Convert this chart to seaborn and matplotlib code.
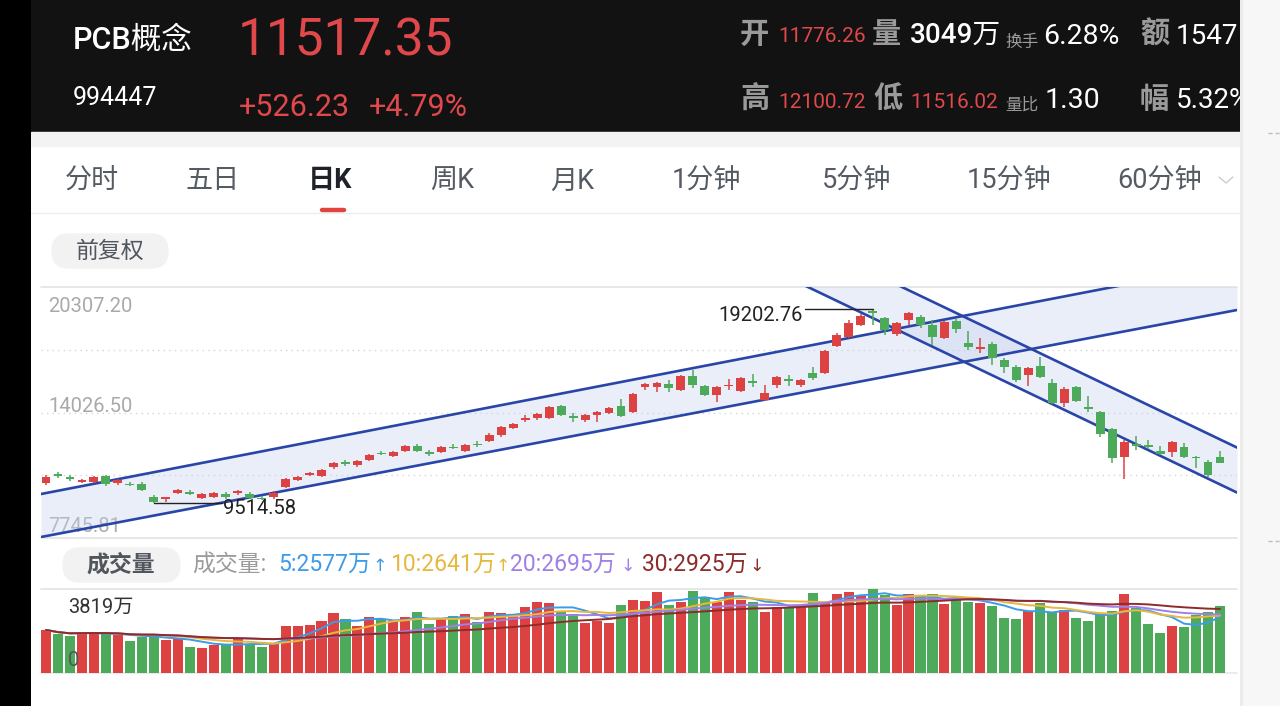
import numpy as np
import pandas as pd
import matplotlib
matplotlib.use('Agg')
import matplotlib.pyplot as plt
import seaborn as sns
from matplotlib.patches import Rectangle, FancyBboxPatch

sns.set_theme(style='white')
plt.rcParams['font.family'] = ['Roboto', 'Noto Sans CJK SC', 'DejaVu Sans']
plt.rcParams['axes.unicode_minus'] = False

# ---- data (PCB概念, daily K) ----
opens = [10498, 10948, 10798, 10548, 10548, 10848, 10498, 10447, 10447, 9797,
         9697, 9997, 10047, 9747, 9797, 9947, 9997, 9947, 9747, 9797,
         10297, 10648, 10898, 10848, 11298, 11548, 11398, 11648, 11999, 11849,
         12099, 12349, 12049, 12049, 12299, 12099, 12449, 12599, 12900, 13250,
         13650, 13751, 13751, 14351, 13851, 13650, 13901, 14001, 14351, 14051,
         15302, 15302, 15453, 15152, 15853, 15352, 14902, 15352, 15102, 15603,
         14651, 15403, 15703, 15403, 16003, 16003, 17354, 17805, 18405, 19106,
         18756, 17955, 18655, 18806, 18405, 17755, 18605, 17504, 17204, 17454,
         16654, 16303, 15903, 16353, 15503, 14501, 15302, 14301, 14051, 13200,
         11799, 12449, 12399, 12099, 12049, 12299, 11799, 11548, 11776.26]
closes = [10798, 10848, 10698, 10648, 10798, 10447, 10648, 10397, 10147, 9547,
          9797, 10147, 9947, 9947, 9997, 9797, 10097, 9747, 9697, 9997,
          10698, 10798, 10998, 11148, 11498, 11448, 11598, 11899, 11949, 12049,
          12349, 12099, 11949, 12299, 12249, 12399, 12399, 12900, 13300, 13450,
          13750, 13951, 14301, 13901, 13751, 13901, 14051, 14251, 13851, 14952,
          15453, 15503, 15252, 15853, 15403, 14902, 15302, 15402, 15753, 15503,
          15002, 15803, 15603, 15653, 15753, 17104, 17905, 18505, 18856, 19006,
          18155, 18505, 19006, 18405, 17805, 18555, 18205, 17304, 17304, 16754,
          16303, 15653, 16253, 15803, 14501, 15202, 14601, 14201, 12950, 11749,
          12549, 12349, 12299, 11949, 12549, 11799, 11749, 10898, 11517.35]
highs = [10898, 11048, 10898, 10698, 10848, 10898, 10698, 10548, 10548, 9897,
         9812, 10197, 10147, 9997, 10047, 10047, 10147, 10047, 9847, 10097,
         10748, 10848, 11048, 11198, 11548, 11648, 11648, 11949, 12099, 12099,
         12399, 12449, 12149, 12349, 12449, 12449, 12599, 13000, 13350, 13500,
         13900, 14001, 14351, 14401, 14001, 13951, 14101, 14301, 14702, 15002,
         15503, 15553, 15653, 15903, 16153, 15403, 15352, 15703, 15803, 15953,
         15403, 15853, 15903, 15703, 16303, 17154, 18005, 18655, 18956, 19202.76,
         18806, 18555, 19056, 18906, 18655, 18605, 18705, 18105, 17754, 17554,
         16754, 16403, 16303, 16804, 15703, 15302, 15352, 14852, 14101, 13250,
         12649, 12849, 12649, 12349, 12599, 12499, 11849, 11648, 12100.72]
lows = [10397, 10748, 10598, 10498, 10498, 10347, 10397, 10347, 10097, 9514.58,
        9540, 9947, 9897, 9697, 9747, 9697, 9897, 9697, 9647, 9697,
        10247, 10598, 10848, 10798, 11198, 11348, 11298, 11598, 11899, 11799,
        12049, 12049, 11849, 11999, 12199, 12049, 12299, 12549, 12800, 13200,
        13550, 13650, 13701, 13851, 13550, 13550, 13550, 13951, 13801, 14001,
        15152, 15052, 15052, 15102, 15252, 14852, 14551, 15152, 15052, 15302,
        14601, 15252, 15352, 15302, 15653, 15953, 17304, 17755, 18355, 18405,
        17905, 17855, 18405, 18255, 17404, 17705, 18005, 17154, 17004, 16403,
        16003, 15553, 15352, 15753, 14451, 14301, 14551, 14051, 12800, 11498,
        10698, 12149, 12199, 11899, 11799, 11749, 11248, 10798, 11516.02]
# volume in 万
volumes = [1957, 1760, 1698, 1835, 1835, 1805, 1729, 1471, 1623, 1729,
           1502, 1547, 1198, 1153, 1259, 1304, 1532, 1320, 1198, 1320,
           2139, 2139, 2184, 2366, 2745, 2442, 2139, 2563, 2442, 2366,
           2563, 2760, 2214, 2457, 2594, 2685, 2336, 2791, 2745, 2685,
           3018, 3215, 3200, 2791, 2685, 2290, 2366, 2260, 3094, 3322,
           3276, 3670, 3094, 3246, 3731, 3473, 3246, 3670, 3322, 3215,
           2791, 3018, 2943, 3094, 3655, 3246, 3595, 3670, 3504, 3819,
           3549, 3094, 3579, 3473, 3595, 3124, 3322, 3246, 3200, 3048,
           2518, 2457, 2836, 3170, 2791, 2867, 2518, 2366, 2639, 2821,
           3579, 2943, 2230, 1805, 2139, 2108, 2639, 2791, 3049]

price_top, price_bottom = 20307.20, 7745.81
vol_top = 3819
high_mark = (69, 19202.76)
low_mark = (9, 9514.58)

# hand-drawn trend channels: two points (bar index, price) per line
rise_lo = [(-0.42, 7795), (99.42, 19156)]
rise_hi = [(-0.42, 9947), (89.07, 20307)]
fall_lo = [(63.6, 20307), (99.5, 9997)]
fall_hi = [(71.45, 20307), (99.5, 12249)]

ma_periods = [5, 10, 20, 30]
ma_colors = ['#3d9be9', '#e6b840', '#a07fe6', '#8e2b2b']
ma_labels = ['5:2577万', '10:2641万', '20:2695万', '30:2925万']
ma_arrows = ['↑', '↑', '↓', '↓']

tabs = ['分时', '五日', '日K', '周K', '月K', '1分钟', '5分钟', '15分钟', '60分钟']
tab_x = [65, 185, 308, 430, 550, 672, 822, 967, 1117]

RED, GREEN = '#dd4242', '#4caa5a'
LINE = '#2a45a8'

W, H = 1280, 706
fig = plt.figure(figsize=(12.8, 7.06), dpi=100, facecolor='white')


def px_axes(x0, y0, x1, y1, z):
    return fig.add_axes([x0 / W, 1 - y1 / H, (x1 - x0) / W, (y1 - y0) / H], zorder=z)


# background / UI layer in pixel coordinates
ui = fig.add_axes([0, 0, 1, 1], zorder=0)
ui.set_xlim(0, W)
ui.set_ylim(H, 0)
ui.axis('off')


def txt(x, y, s, size, color, ax=ui, **kw):
    ax.text(x, y, s, fontsize=size, color=color, va='center', ha=kw.pop('ha', 'left'),
            transform=ui.transData, **kw)


ui.add_patch(Rectangle((0, 0), 1240, 132, color='#121212', zorder=1))
ui.add_patch(Rectangle((31, 132), 1209, 14, color='#f3f3f3', zorder=1))
ui.plot([31, 1240], [213, 213], color='#eeeeee', lw=1, zorder=1)

# header
txt(73, 40, 'PCB概念', 22, 'white', fontweight='medium')
txt(73, 98, '994447', 18, 'white')
txt(238, 42, '11517.35', 37, '#e0484b')
txt(239, 107, '+526.23', 22, '#e0484b')
txt(369, 107, '+4.79%', 22, '#e0484b')
GREY_H = '#9a9a9a'
for lbl, x, y in [('开', 740, 35), ('量', 872, 35), ('额', 1140, 35),
                  ('高', 740, 100), ('低', 873, 100), ('幅', 1140, 100)]:
    txt(x, y, lbl, 21, GREY_H, fontweight='bold')
txt(778, 37, '11776.26', 15, '#e0484b')
txt(910, 35, '3049万', 20, 'white', fontweight='medium')
txt(1005, 42, '换手', 12, GREY_H)
txt(1043, 36, '6.28%', 20.5, 'white')
txt(1176, 36, '1547', 20, 'white')
txt(778, 102, '12100.72', 15, '#e0484b')
txt(910, 102, '11516.02', 15, '#e0484b')
txt(1005, 105, '量比', 12, GREY_H)
txt(1045, 100, '1.30', 20.5, 'white')
txt(1176, 100, '5.32%', 20, 'white')

# period tabs
for lbl, x in zip(tabs, tab_x):
    if lbl == '日K':
        txt(x, 181, lbl, 19.5, '#1f2329', fontweight='bold')
    else:
        txt(x, 181, lbl, 19.5, '#555b63')
ui.plot([322, 344], [210, 210], lw=3.2, color='#e0443e', solid_capstyle='round', zorder=2)
ui.plot([1219, 1226, 1233], [177, 183, 177], color='#cccccc', lw=1, zorder=2)

# pills
ui.add_patch(FancyBboxPatch((52, 234), 116, 34, boxstyle='round,pad=0,rounding_size=17',
                            color='#f2f2f2', zorder=1))
txt(110, 251, '前复权', 16.5, '#50555e', ha='center')
ui.add_patch(FancyBboxPatch((63, 548), 117, 34, boxstyle='round,pad=0,rounding_size=17',
                            color='#f2f2f2', zorder=1))
txt(121, 565, '成交量', 16.5, '#50555e', ha='center', fontweight='bold')
txt(192, 565, '成交量:', 16.5, '#9b9b9b')
for s, a, x, xa, col in zip(ma_labels, ma_arrows, [278, 390, 510, 642],
                            [380, 503, 628, 757], ma_colors):
    txt(x, 565, s, 16.5, col)
    txt(xa, 566, a, 12.5, col, ha='center', family=['DejaVu Sans'])

# price axis labels (under the chart artists)
for lbl, y in [('20307.20', 306), ('14026.50', 406), ('7745.81', 526)]:
    txt(48, y, lbl, 14.5, '#a9a9a9')

# ---- candlestick panel ----
idx = np.arange(len(opens))
o = np.array(opens, float)
c = np.array(closes, float)
colors = np.where(c >= o, RED, GREEN)

ax = px_axes(41, 287, 1237, 538, 2)
ax.set_facecolor('none')
xlim = (-0.417, 99.42)

levels = np.linspace(price_bottom, price_top, 5)
for lv in levels[1:-1]:
    ax.axhline(lv, color='#d6d6d6', lw=1, ls=(0, (1, 3)), zorder=1)
for lv in (levels[0], levels[-1]):
    ax.axhline(lv, color='#e3e3e3', lw=1.2, zorder=1, clip_on=False)


def line_y(pts, xs):
    (x0, y0), (x1, y1) = pts
    return y0 + (y1 - y0) * (xs - x0) / (x1 - x0)


xs = np.array(xlim)
for lo, hi in [(rise_lo, rise_hi), (fall_lo, fall_hi)]:
    ax.fill_between(xs, line_y(lo, xs), line_y(hi, xs), color='#c6d3f0', alpha=0.38,
                    lw=0, zorder=2)
    ax.plot(xs, line_y(lo, xs), color=LINE, lw=1.9, zorder=3)
    ax.plot(xs, line_y(hi, xs), color=LINE, lw=1.9, zorder=3)

ax.vlines(idx, lows, highs, colors=colors, lw=1.1, zorder=4)
body = np.maximum(np.abs(c - o), 60)
bottom = (o + c) / 2 - body / 2
ax.bar(idx, body, bottom=bottom, width=0.74, color=colors, lw=0, zorder=5)

# high / low markers
ax.plot([63.4, high_mark[0]], [high_mark[1]] * 2, color='#222222', lw=1, zorder=6)
ax.text(63.2, high_mark[1] - 300, '19202.76', fontsize=14.5, color='#222222',
        ha='right', va='center', zorder=6)
ax.plot([low_mark[0], 14.7], [low_mark[1]] * 2, color='#222222', lw=1, zorder=6)
ax.text(14.75, low_mark[1] - 270, '9514.58', fontsize=14.5, color='#222222',
        ha='left', va='center', zorder=6)

ax.set_xlim(*xlim)
ax.set_ylim(price_bottom, price_top)
ax.set_xticks([])
ax.set_yticks([])
sns.despine(ax=ax, left=True, bottom=True)

# ---- volume panel ----
axv = px_axes(41, 589, 1237, 673, 2)
axv.set_facecolor('none')
axv.axhline(vol_top, color='#e3e3e3', lw=1.2, clip_on=False, zorder=1)
axv.axhline(0, color='#e8e8e8', lw=1.2, clip_on=False, zorder=1)
axv.bar(idx, volumes, width=0.84, color=colors, lw=0, zorder=2)
vol = pd.Series(volumes, dtype=float)
for n, col in zip(ma_periods, ma_colors):
    ma = vol.rolling(n, min_periods=1).mean()
    sns.lineplot(x=idx, y=ma.values, ax=axv, color=col, lw=1.4, zorder=3 + n / 100)
txt(68, 607, '3819万', 14.5, '#333333', ax=axv, zorder=6)
txt(68, 660, '0', 14.5, '#555555', ax=axv, zorder=6)
axv.set_xlim(*xlim)
axv.set_ylim(0, vol_top)
axv.set_xticks([])
axv.set_yticks([])
axv.set_xlabel('')
axv.set_ylabel('')
sns.despine(ax=axv, left=True, bottom=True)

# black left margin and the right-hand strip of the next screen, on top
lm = fig.add_axes([0, 0, 31 / W, 1], zorder=10)
lm.set_xlim(0, 31)
lm.set_ylim(H, 0)
lm.axis('off')
lm.add_patch(Rectangle((0, 0), 31, H, color='#000000'))

rs = fig.add_axes([1240 / W, 0, 40 / W, 1], zorder=10)
rs.set_xlim(0, 40)
rs.set_ylim(H, 0)
rs.axis('off')
rs.add_patch(Rectangle((0, 0), 40, H, color='#f7f7f7'))
rs.add_patch(Rectangle((0, 0), 2, H, color='#ececec'))
for y in (133, 541):
    rs.plot([28, 40], [y, y], color='#bdbdbd', lw=1, ls=(0, (3, 2)))

fig.savefig('out.png', dpi=100, facecolor='white')
